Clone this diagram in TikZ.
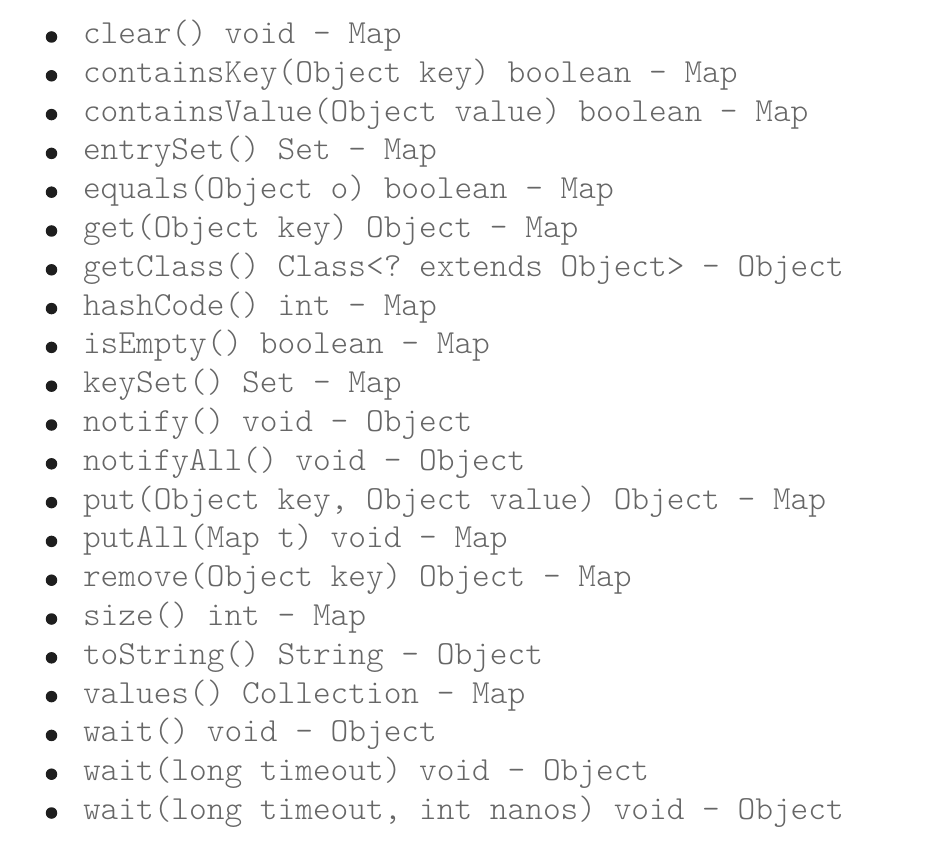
\documentclass[tikz,border=0pt]{standalone}
\usepackage{fontspec}
\setmonofont{Latin Modern Mono Light}
\definecolor{txtgray}{HTML}{666666}
\definecolor{bulletcol}{HTML}{1E1E1E}
\tikzset{
  itemtext/.style={anchor=base west, inner sep=0pt, outer sep=0pt, text=txtgray,
    font=\ttfamily\fontsize{33.7pt}{33.7pt}\selectfont},
  bulletdot/.style={circle, fill=bulletcol, inner sep=0pt, minimum size=11.5pt}
}
\begin{document}
\begin{tikzpicture}[x=1pt,y=-1pt]
\useasboundingbox[fill=white] (0,0) rectangle (926,850);
\foreach \t [count=\i] in {
  {clear() void - Map},
  {containsKey(Object key) boolean - Map},
  {containsValue(Object value) boolean - Map},
  {entrySet() Set - Map},
  {equals(Object o) boolean - Map},
  {get(Object key) Object - Map},
  {getClass() Class<? extends Object> - Object},
  {hashCode() int - Map},
  {isEmpty() boolean - Map},
  {keySet() Set - Map},
  {notify() void - Object},
  {notifyAll() void - Object},
  {put(Object key, Object value) Object - Map},
  {putAll(Map t) void - Map},
  {remove(Object key) Object - Map},
  {size() int - Map},
  {toString() String - Object},
  {values() Collection - Map},
  {wait() void - Object},
  {wait(long timeout) void - Object},
  {wait(long timeout, int nanos) void - Object}}
{
  \pgfmathsetmacro{\yy}{37+(\i-1)*38.8}
  \node[bulletdot] (b\i) at (51.5,\yy) {};
  \node[itemtext] (l\i) at (83,\yy+6.5) {\t};
}
\end{tikzpicture}
\end{document}
